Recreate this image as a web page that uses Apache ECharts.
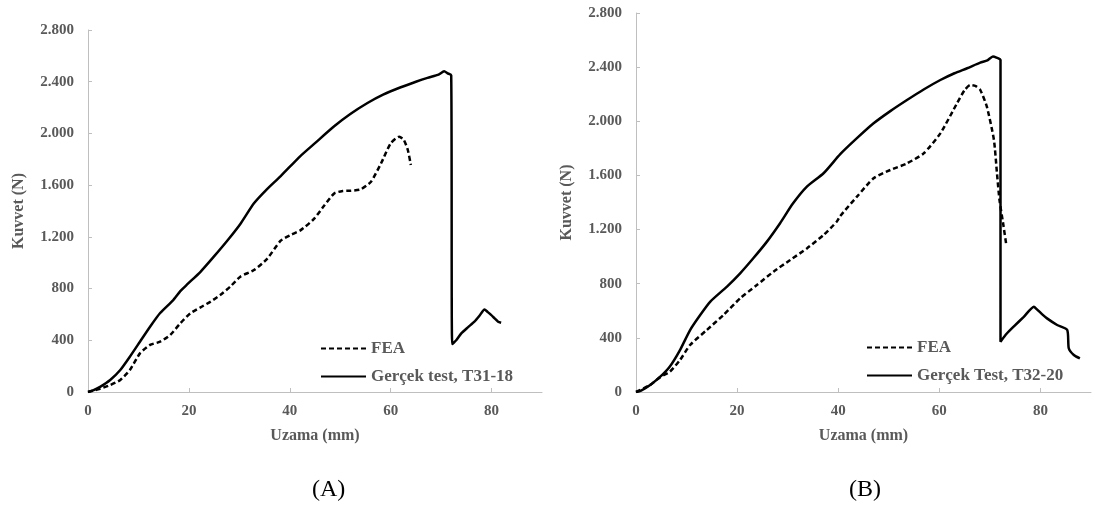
<!DOCTYPE html>
<html>
<head>
<meta charset="utf-8">
<script src="https://cdn.jsdelivr.net/npm/echarts@6/dist/echarts.min.js"></script>
<style>
  html, body { margin: 0; padding: 0; background: #ffffff; }
  #chart { width: 1094px; height: 512px; }
</style>
</head>
<body>
<div id="chart"></div>
<script>
// Elongation (mm) / force (N) pairs for each specimen
const feaA = [[0,0],[2,20],[4.4,54],[6.4,93],[8.3,170],[10.3,299],[12.3,364],[14.3,389],[16.3,441],[18.3,531],[20.3,609],[22.3,655],[24.3,699],[26.2,750],[28.2,815],[30.2,892],[32.9,943],[35.5,1030],[38.2,1170],[40.2,1215],[42.1,1250],[44.7,1335],[46.8,1440],[48.8,1536],[50.5,1555],[52.1,1557],[54.1,1568],[56.1,1627],[58.1,1769],[60,1923],[61.7,1975],[62.6,1950],[63.4,1872],[64,1756]];
const testA = [[0,0],[1,12],[2.4,40],[4.4,93],[6.4,170],[8.3,273],[10.3,389],[12.3,505],[14.3,611],[16.9,711],[18.3,780],[19.6,830],[22.3,930],[24.9,1045],[27.6,1170],[30.2,1300],[32.9,1460],[35.5,1570],[38.2,1670],[42.1,1825],[45,1925],[48.8,2055],[52,2150],[55.4,2235],[58.5,2300],[62,2357],[65,2400],[67.3,2430],[69.5,2455],[70.6,2480],[71.3,2465],[72,2450],[72.2,371],[73,400],[74,453],[75.3,500],[76.6,544],[77.6,590],[78.6,639],[79.2,620],[79.9,596],[80.6,570],[81.3,544],[81.9,536]];
const feaB = [[0,0],[2.8,52],[4.8,110],[6.7,150],[8.7,236],[10.7,347],[14,458],[17.3,569],[20.6,692],[23.9,790],[27.2,889],[30.5,975],[33.8,1061],[37.1,1160],[39.7,1258],[40.4,1300],[43.7,1443],[47,1579],[50.3,1640],[53.6,1689],[56.9,1763],[60.2,1911],[63.5,2133],[65,2230],[66.1,2268],[67.2,2260],[68.1,2231],[69.4,2108],[70.8,1862],[71.4,1616],[71.9,1418],[72.6,1250],[73.2,1099]];
const testB = [[0,0],[1,10],[2.8,52],[4.8,113],[6.7,189],[8.7,310],[10.7,458],[12.7,569],[14.7,668],[18,779],[20.6,877],[23.2,988],[25.9,1111],[28.5,1247],[31,1390],[33.8,1517],[37.1,1616],[40.4,1757],[43.7,1875],[47,1985],[50.3,2075],[53.6,2157],[56.9,2235],[60.2,2305],[63,2355],[65.5,2392],[68.1,2433],[69.5,2450],[70.6,2478],[71.3,2470],[72.1,2453],[72.1,372],[73.3,430],[74.7,483],[76.7,555],[78.7,630],[79.3,611],[80.3,575],[81.3,544],[83.3,495],[85.3,458],[85.6,323],[86.6,273],[87.8,248]];

const seriesNames = ['FEA', 'Gerçek test, T31-18', 'Gerçek Test, T32-20'];
const xTicks = [0, 20, 40, 60, 80];
const captions = ['(A)', '(B)'];
const xTitle = 'Uzama (mm)';
const yTitle = 'Kuvvet (N)';

const FONT = '"Liberation Serif", "Times New Roman", serif';
const TXT = '#595959';
const AXIS = '#bfbfbf';

// thousands separated with a dot: 2800 -> 2.800
function fmtForce(v) {
  if (v < 1000) return String(v);
  return Math.floor(v / 1000) + '.' + String(v % 1000).padStart(3, '0');
}

function xAxisFor(gridIndex) {
  return {
    type: 'value', gridIndex, min: 0, max: 90,
    name: xTitle, nameLocation: 'middle', nameGap: 36,
    nameTextStyle: { fontFamily: FONT, fontWeight: 'bold', fontSize: 16, color: TXT },
    axisLine: { show: true, lineStyle: { color: AXIS, width: 1 } },
    axisTick: { show: true, inside: true, length: 4, lineStyle: { color: AXIS }, customValues: xTicks },
    axisLabel: { fontFamily: FONT, fontWeight: 'bold', fontSize: 15, color: TXT, margin: 12, customValues: xTicks },
    splitLine: { show: false }
  };
}
function yAxisFor(gridIndex) {
  return {
    type: 'value', gridIndex, min: 0, max: 2800, interval: 400,
    name: yTitle, nameLocation: 'middle', nameGap: 61, nameRotate: 90,
    nameTextStyle: { fontFamily: FONT, fontWeight: 'bold', fontSize: 16, color: TXT },
    axisLine: { show: true, lineStyle: { color: AXIS, width: 1 } },
    axisTick: { show: true, inside: true, length: 4, lineStyle: { color: AXIS } },
    axisLabel: { fontFamily: FONT, fontWeight: 'bold', fontSize: 15, color: TXT, margin: 14, formatter: fmtForce },
    splitLine: { show: false }
  };
}
function line(name, data, idx, dashed) {
  return {
    type: 'line', name, data, xAxisIndex: idx, yAxisIndex: idx,
    symbol: 'none', smooth: 0.2, animation: false,
    lineStyle: { color: '#000000', width: 2.5, type: dashed ? [5, 3] : 'solid' },
    itemStyle: { color: '#000000' }
  };
}
// legend rows: plain line sample (no marker) followed by the label
function legendFor(left, top, names) {
  return {
    orient: 'vertical', left, top, data: names,
    itemWidth: 45, itemHeight: 14, itemGap: 11,
    selectedMode: false,
    itemStyle: { color: 'transparent', borderColor: 'transparent', borderWidth: 0, opacity: 0 },
    textStyle: { fontFamily: FONT, fontWeight: 'bold', fontSize: 17, color: TXT }
  };
}

const chart = echarts.init(document.getElementById('chart'), null, { renderer: 'canvas' });
chart.setOption({
  backgroundColor: '#ffffff',
  animation: false,
  grid: [
    { left: 88, top: 30, width: 454, height: 362 },
    { left: 636, top: 13, width: 455, height: 379 }
  ],
  xAxis: [xAxisFor(0), xAxisFor(1)],
  yAxis: [yAxisFor(0), yAxisFor(1)],
  legend: [
    legendFor(315, 335, [seriesNames[0], seriesNames[1]]),
    legendFor(861, 334, [seriesNames[0], seriesNames[2]])
  ],
  series: [
    line(seriesNames[0], feaA, 0, true),
    line(seriesNames[1], testA, 0, false),
    line(seriesNames[0], feaB, 1, true),
    line(seriesNames[2], testB, 1, false)
  ],
  graphic: [
    { type: 'text', left: 312, top: 478, style: { text: captions[0], font: '24px ' + FONT, fill: '#000000' } },
    { type: 'text', left: 849, top: 478, style: { text: captions[1], font: '24px ' + FONT, fill: '#000000' } }
  ]
});
</script>
</body>
</html>
